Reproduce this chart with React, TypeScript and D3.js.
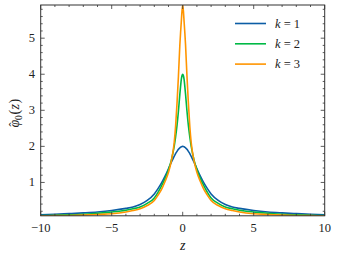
import React, { useEffect, useRef } from "react";
import * as d3 from "d3";

// data
const zValues = [
  -10, -9, -8, -7, -6, -5, -4, -3.5, -3, -2.5, -2, -1.75, -1.5, -1.25, -1, -0.8, -0.6, -0.5, -0.4, -0.3, -0.2,
  -0.15, -0.1, -0.05, 0, 0.05, 0.1, 0.15, 0.2, 0.3, 0.4, 0.5, 0.6, 0.8, 1, 1.25, 1.5, 1.75, 2, 2.5, 3, 3.5, 4,
  5, 6, 7, 8, 9, 10,
];
const phiK1 = [
  0.1, 0.115, 0.135, 0.155, 0.18, 0.22, 0.28, 0.32, 0.39, 0.5, 0.68, 0.82, 0.98, 1.17, 1.38, 1.56, 1.72, 1.8,
  1.86, 1.92, 1.96, 1.975, 1.99, 1.997, 2.0, 1.997, 1.99, 1.975, 1.96, 1.92, 1.86, 1.8, 1.72, 1.56, 1.38, 1.17,
  0.98, 0.82, 0.68, 0.5, 0.39, 0.32, 0.28, 0.22, 0.18, 0.155, 0.135, 0.115, 0.1,
];
const phiK2 = [
  0.08, 0.09, 0.1, 0.12, 0.145, 0.18, 0.23, 0.27, 0.32, 0.42, 0.57, 0.72, 0.9, 1.1, 1.36, 1.62, 2.0, 2.26, 2.58,
  2.98, 3.45, 3.66, 3.85, 3.96, 4.0, 3.96, 3.85, 3.66, 3.45, 2.98, 2.58, 2.26, 2.0, 1.62, 1.36, 1.1, 0.9, 0.72,
  0.57, 0.42, 0.32, 0.27, 0.23, 0.18, 0.145, 0.12, 0.1, 0.09, 0.08,
];
const phiK3 = [
  0.075, 0.08, 0.085, 0.095, 0.11, 0.13, 0.18, 0.22, 0.27, 0.36, 0.5, 0.64, 0.8, 1.02, 1.28, 1.6, 2.1, 2.56,
  3.2, 3.95, 4.82, 5.15, 5.45, 5.75, 5.92, 5.75, 5.45, 5.15, 4.82, 3.95, 3.2, 2.56, 2.1, 1.6, 1.28, 1.02, 0.8,
  0.64, 0.5, 0.36, 0.27, 0.22, 0.18, 0.13, 0.11, 0.095, 0.085, 0.08, 0.075,
];
const seriesLabels = ["1", "2", "3"];
const seriesColors = ["#0C5DA5", "#00B945", "#FF9500"];
const xTicks = [-10, -5, 0, 5, 10];
const yTicks = [1, 2, 3, 4, 5];

const W = 337;
const H = 259;

const App = () => {
  const ref = useRef<SVGSVGElement | null>(null);

  useEffect(() => {
    const svg = d3.select(ref.current);
    svg.selectAll("*").remove();

    const left = 40.7;
    const right = 324.7;
    const top = 5;
    const bottom = 215.8;
    const font = "Liberation Serif";
    const axisColor = "#333";
    const textColor = "#222";

    const series = [phiK1, phiK2, phiK3];
    const allVals = series.flat();

    const x = d3.scaleLinear().domain([-10, 10]).range([left, right]);
    const y = d3
      .scaleLinear()
      .domain([d3.min(allVals) ?? 0, d3.max(allVals) ?? 6])
      .range([bottom, top]);

    svg
      .append("defs")
      .append("clipPath")
      .attr("id", "plot-clip")
      .append("rect")
      .attr("x", left)
      .attr("y", top)
      .attr("width", right - left)
      .attr("height", bottom - top);

    // Lines
    const line = d3
      .line<number>()
      .x((_, i) => x(zValues[i]))
      .y((d) => y(d))
      .curve(d3.curveMonotoneX);

    const g = svg.append("g").attr("clip-path", "url(#plot-clip)");
    series.forEach((s, i) => {
      g.append("path")
        .datum(s)
        .attr("fill", "none")
        .attr("stroke", seriesColors[i])
        .attr("stroke-width", 1.6)
        .attr("d", line);
    });

    // Frame
    svg
      .append("rect")
      .attr("x", left)
      .attr("y", top)
      .attr("width", right - left)
      .attr("height", bottom - top)
      .attr("fill", "none")
      .attr("stroke", axisColor)
      .attr("stroke-width", 1);

    // Ticks (inward, all four sides)
    const ticks = svg.append("g").attr("stroke", axisColor).attr("stroke-width", 0.8);
    const xMinor = d3.range(-10, 10.01, 1);
    xMinor.forEach((v) => {
      const len = xTicks.includes(v) ? 4 : 2;
      ticks.append("line").attr("x1", x(v)).attr("x2", x(v)).attr("y1", bottom).attr("y2", bottom - len);
      ticks.append("line").attr("x1", x(v)).attr("x2", x(v)).attr("y1", top).attr("y2", top + len);
    });
    const [y0, y1] = y.domain();
    const yMinor = d3.range(0.2, 6, 0.2).filter((v) => v >= y0 && v <= y1);
    yMinor.forEach((v) => {
      const major = Math.abs(v - Math.round(v)) < 1e-6;
      const len = major ? 4 : 2;
      ticks.append("line").attr("y1", y(v)).attr("y2", y(v)).attr("x1", left).attr("x2", left + len);
      ticks.append("line").attr("y1", y(v)).attr("y2", y(v)).attr("x1", right).attr("x2", right - len);
    });

    // Tick labels
    svg
      .append("g")
      .selectAll("text")
      .data(xTicks)
      .enter()
      .append("text")
      .attr("x", (d) => x(d))
      .attr("y", 232)
      .attr("text-anchor", "middle")
      .attr("font-family", font)
      .attr("font-size", 12.5)
      .attr("fill", textColor)
      .text((d) => (d < 0 ? `\u2212${Math.abs(d)}` : `${d}`));
    svg
      .append("g")
      .selectAll("text")
      .data(yTicks)
      .enter()
      .append("text")
      .attr("x", 35)
      .attr("y", (d) => y(d) + 4)
      .attr("text-anchor", "end")
      .attr("font-family", font)
      .attr("font-size", 12.5)
      .attr("fill", textColor)
      .text((d) => `${d}`);

    // Axis labels
    svg
      .append("text")
      .attr("x", x(0))
      .attr("y", 250)
      .attr("text-anchor", "middle")
      .attr("font-family", font)
      .attr("font-style", "italic")
      .attr("font-size", 14)
      .attr("fill", textColor)
      .text("z");

    const yl = svg
      .append("g")
      .attr("transform", `translate(19,${(top + bottom) / 2}) rotate(-90)`)
      .attr("font-family", font)
      .attr("fill", textColor);
    yl.append("text").attr("x", -17).attr("y", 0).attr("font-style", "italic").attr("font-size", 14).text("\u03C6");
    yl.append("text").attr("x", -16).attr("y", -1).attr("font-size", 12).text("\u02C6");
    yl.append("text").attr("x", -9.5).attr("y", 3).attr("font-size", 9.5).text("0");
    yl.append("text").attr("x", -4).attr("y", 0).attr("font-size", 14).text("(");
    yl.append("text").attr("x", 1).attr("y", 0).attr("font-style", "italic").attr("font-size", 14).text("z");
    yl.append("text").attr("x", 7).attr("y", 0).attr("font-size", 14).text(")");

    // Legend
    const legend = svg.append("g");
    seriesLabels.forEach((lab, i) => {
      const ly = 23.5 + i * 20.3;
      legend
        .append("line")
        .attr("x1", 235)
        .attr("x2", 266)
        .attr("y1", ly)
        .attr("y2", ly)
        .attr("stroke", seriesColors[i])
        .attr("stroke-width", 1.6);
      const t = legend
        .append("text")
        .attr("x", 275)
        .attr("y", ly + 4)
        .attr("font-family", font)
        .attr("font-size", 12.5)
        .attr("fill", textColor);
      t.append("tspan").attr("font-style", "italic").text("k");
      t.append("tspan").text(` = ${lab}`);
    });
  }, []);

  return (
    <div style={{ position: "fixed", left: 0, top: 0, width: W, height: H, background: "#fff" }}>
      <svg ref={ref} width={W} height={H} style={{ display: "block" }} />
    </div>
  );
};

export default App;
